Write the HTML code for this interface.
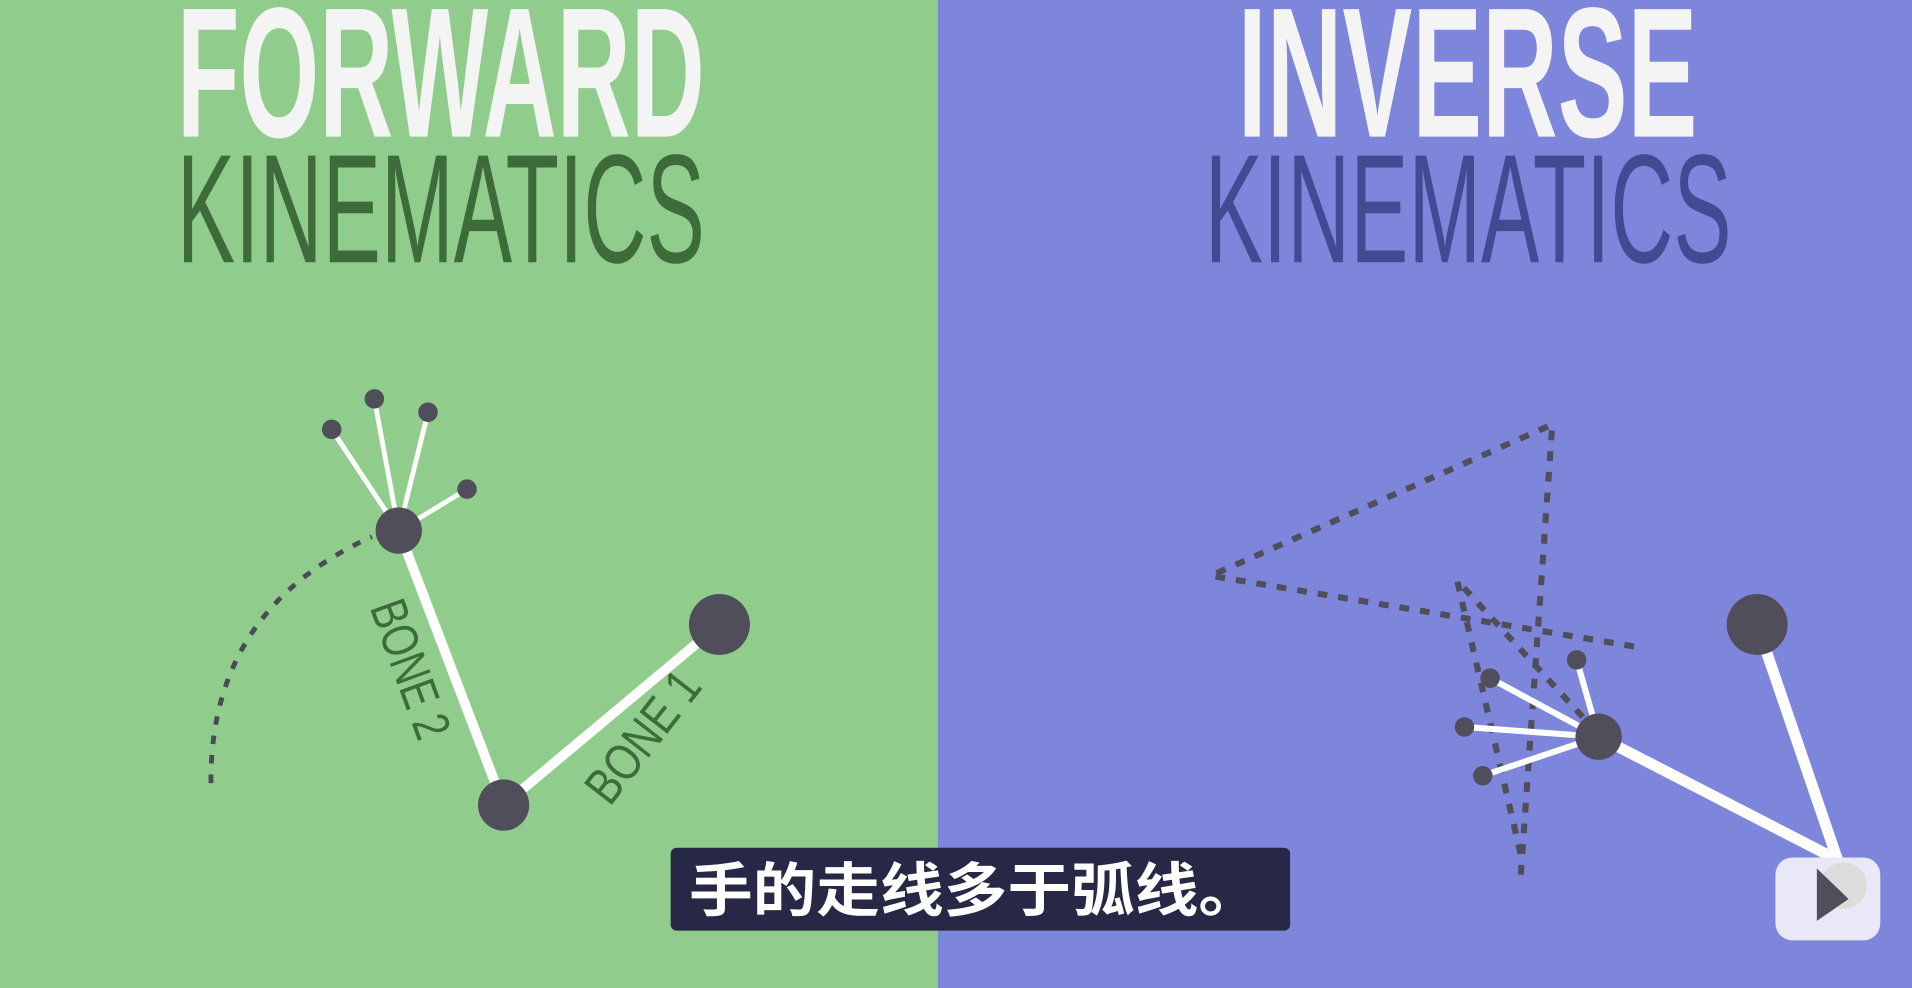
<!DOCTYPE html>
<html><head><meta charset="utf-8"><style>
html,body{margin:0;padding:0;width:1912px;height:988px;overflow:hidden}
svg{display:block}
</style></head><body>
<svg width="1912" height="988" viewBox="0 0 1568 810" preserveAspectRatio="none" xmlns="http://www.w3.org/2000/svg">
<rect x="0" y="0" width="769" height="810" fill="#90cd8c"/>
<rect x="769" y="0" width="799" height="810" fill="#7e86dc"/>
<g font-family="'Liberation Sans Narrow','Liberation Sans',sans-serif">
<text x="145" y="112" font-size="152" font-weight="bold" fill="#f4f4f4" textLength="433" lengthAdjust="spacingAndGlyphs">FORWARD</text>
<text x="145" y="215" font-size="127" fill="#3e6b3a" textLength="433" lengthAdjust="spacingAndGlyphs">KINEMATICS</text>
<text x="1015" y="112" font-size="152" font-weight="bold" fill="#f4f4f4" textLength="377" lengthAdjust="spacingAndGlyphs">INVERSE</text>
<text x="988" y="215" font-size="127" fill="#414b94" textLength="432" lengthAdjust="spacingAndGlyphs">KINEMATICS</text>
</g>
<g>
<path d="M173,642 Q172,500 305,440" fill="none" stroke="#4a4a58" stroke-width="4" stroke-dasharray="7,9"/>
<g stroke="#fff" stroke-linecap="round">
<line x1="413" y1="660" x2="327" y2="435" stroke-width="8"/>
<line x1="413" y1="660" x2="590" y2="512" stroke-width="8"/>
<line x1="327" y1="435" x2="272" y2="352" stroke-width="4"/>
<line x1="327" y1="435" x2="307" y2="327" stroke-width="4"/>
<line x1="327" y1="435" x2="351" y2="338" stroke-width="4"/>
<line x1="327" y1="435" x2="383" y2="401" stroke-width="4"/>
</g>
<g fill="#4f4e5a">
<circle cx="327" cy="435" r="19"/><circle cx="413" cy="660" r="21"/><circle cx="590" cy="512" r="25"/>
<circle cx="272" cy="352" r="8"/><circle cx="307" cy="327" r="8"/><circle cx="351" cy="338" r="8"/><circle cx="383" cy="401" r="8"/>
</g>
<text transform="translate(303,498) rotate(70)" font-family="'Liberation Sans Narrow','Liberation Sans',sans-serif" font-size="42" fill="#3e6b3a" textLength="118" lengthAdjust="spacingAndGlyphs">BONE 2</text>
<text transform="translate(500,662) rotate(-52)" font-family="'Liberation Sans Narrow','Liberation Sans',sans-serif" font-size="42" fill="#3e6b3a" textLength="125" lengthAdjust="spacingAndGlyphs">BONE 1</text>
</g>
<g>
<g fill="none" stroke="#4f4e5a" stroke-width="5" stroke-dasharray="8,9">
<polyline points="1340,530 993,472 1273,348 1247,720"/>
<polyline points="1247,700 1195,476 1300,590"/>
</g>
<g stroke="#fff" stroke-linecap="round">
<line x1="1441" y1="512" x2="1507" y2="705" stroke-width="9"/>
<line x1="1311" y1="604" x2="1507" y2="705" stroke-width="9"/>
<line x1="1311" y1="604" x2="1222" y2="556" stroke-width="5"/>
<line x1="1311" y1="604" x2="1201" y2="596" stroke-width="5"/>
<line x1="1311" y1="604" x2="1216" y2="636" stroke-width="5"/>
<line x1="1311" y1="604" x2="1293" y2="541" stroke-width="5"/>
</g>
<g fill="#4f4e5a">
<circle cx="1441" cy="512" r="25"/><circle cx="1311" cy="604" r="19"/>
<circle cx="1222" cy="556" r="8"/><circle cx="1201" cy="596" r="8"/><circle cx="1216" cy="636" r="8"/><circle cx="1293" cy="541" r="8"/>
</g>
</g>
<g>
<rect x="1456" y="703" width="86" height="68" rx="14" fill="#e8e8f6"/>
<circle cx="1512" cy="726" r="19" fill="#dcdcdc"/>
<polygon points="1490,712 1516,737 1490,755" fill="#4f4e5a"/>
</g>
<rect x="550" y="695" width="508" height="68" rx="5" fill="#262845"/>
<text x="565" y="747" font-family="'Noto Sans CJK SC','WenQuanYi Zen Hei',sans-serif" font-size="48" font-weight="bold" fill="#ffffff" textLength="470" lengthAdjust="spacingAndGlyphs">手的走线多于弧线。</text>
</svg>
</body></html>
